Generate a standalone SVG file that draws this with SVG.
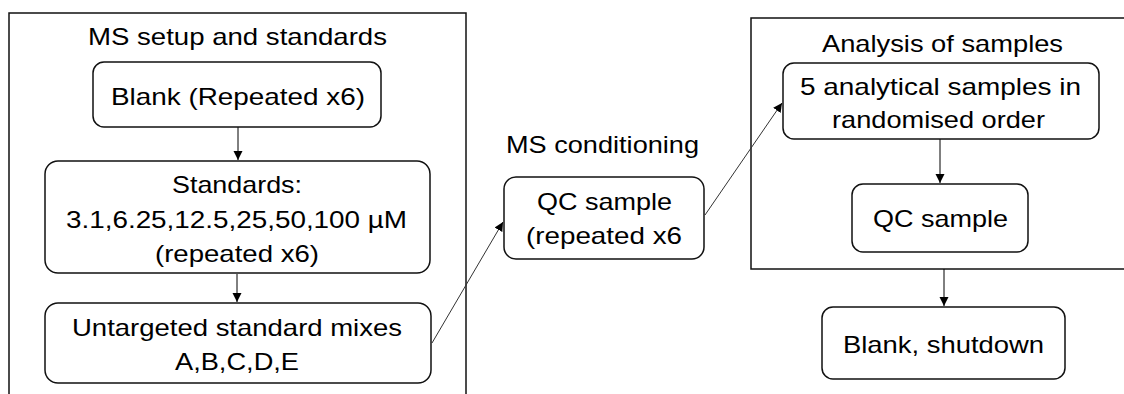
<svg xmlns="http://www.w3.org/2000/svg" width="1124" height="394" viewBox="0 0 1124 394">
<style>
.frame{fill:none;stroke:#111;stroke-width:1.5}
.box{fill:#fff;stroke:#111;stroke-width:1.5}
.t{font-family:"Liberation Sans",Arial,sans-serif;font-size:24px;fill:#000;text-anchor:middle}
.c{fill:none;stroke:#000;stroke-width:1}
.d{fill:none;stroke:#333;stroke-width:1}
</style>
<defs>
<marker id="ah" markerWidth="10" markerHeight="10" refX="9" refY="4.5" orient="auto" markerUnits="userSpaceOnUse">
<path d="M0,0 L9,4.5 L0,9 Z" fill="#000"/>
</marker>
</defs>
<rect width="1124" height="394" fill="#fff"/>
<g id="group-setup">
<rect class="frame" x="9" y="13" width="457" height="400"/>
<text class="t" x="237.5" y="45" textLength="299" lengthAdjust="spacingAndGlyphs">MS setup and standards</text>
</g>
<g id="group-analysis">
<rect class="frame" x="751" y="18" width="390" height="251"/>
<text class="t" x="942.5" y="52" textLength="241" lengthAdjust="spacingAndGlyphs">Analysis of samples</text>
</g>
<g id="label-conditioning">
<text class="t" x="602.5" y="153" textLength="193" lengthAdjust="spacingAndGlyphs">MS conditioning</text>
</g>
<g id="connectors">
<line class="c" x1="238" y1="127" x2="238" y2="160" marker-end="url(#ah)"/>
<line class="c" x1="237" y1="274" x2="237" y2="302" marker-end="url(#ah)"/>
<line class="d" x1="432" y1="343" x2="503" y2="222" marker-end="url(#ah)"/>
<line class="d" x1="705" y1="215" x2="782" y2="103" marker-end="url(#ah)"/>
<line class="c" x1="940" y1="139" x2="940" y2="183" marker-end="url(#ah)"/>
<line class="c" x1="944" y1="269" x2="944" y2="306" marker-end="url(#ah)"/>
</g>
<g id="node-blank">
<rect class="box" x="93" y="62" width="288" height="65" rx="11"/>
<text class="t" x="238" y="105" textLength="254" lengthAdjust="spacingAndGlyphs">Blank (Repeated x6)</text>
</g>
<g id="node-standards">
<rect class="box" x="45" y="161" width="385" height="112" rx="13"/>
<text class="t" x="237" y="193" textLength="130" lengthAdjust="spacingAndGlyphs">Standards:</text>
<text class="t" x="236.5" y="228" textLength="341" lengthAdjust="spacingAndGlyphs">3.1,6.25,12.5,25,50,100 µM</text>
<text class="t" x="237" y="262" textLength="164" lengthAdjust="spacingAndGlyphs">(repeated x6)</text>
</g>
<g id="node-untargeted">
<rect class="box" x="45" y="303" width="386" height="80" rx="13"/>
<text class="t" x="237" y="336" textLength="330" lengthAdjust="spacingAndGlyphs">Untargeted standard mixes</text>
<text class="t" x="237" y="370" textLength="124" lengthAdjust="spacingAndGlyphs">A,B,C,D,E</text>
</g>
<g id="node-qc-conditioning">
<rect class="box" x="504" y="177" width="200" height="82" rx="12"/>
<text class="t" x="604.5" y="210" textLength="135" lengthAdjust="spacingAndGlyphs">QC sample</text>
<text class="t" x="604" y="244" textLength="156" lengthAdjust="spacingAndGlyphs">(repeated x6</text>
</g>
<g id="node-analytical">
<rect class="box" x="783" y="63" width="316" height="76" rx="11"/>
<text class="t" x="940.5" y="95" textLength="281" lengthAdjust="spacingAndGlyphs">5 analytical samples in</text>
<text class="t" x="938.5" y="128" textLength="213" lengthAdjust="spacingAndGlyphs">randomised order</text>
</g>
<g id="node-qc">
<rect class="box" x="852" y="184" width="176" height="68" rx="11"/>
<text class="t" x="940.5" y="227" textLength="135" lengthAdjust="spacingAndGlyphs">QC sample</text>
</g>
<g id="node-shutdown">
<rect class="box" x="822" y="307" width="243" height="72" rx="11"/>
<text class="t" x="943.5" y="353" textLength="201" lengthAdjust="spacingAndGlyphs">Blank, shutdown</text>
</g>
</svg>
